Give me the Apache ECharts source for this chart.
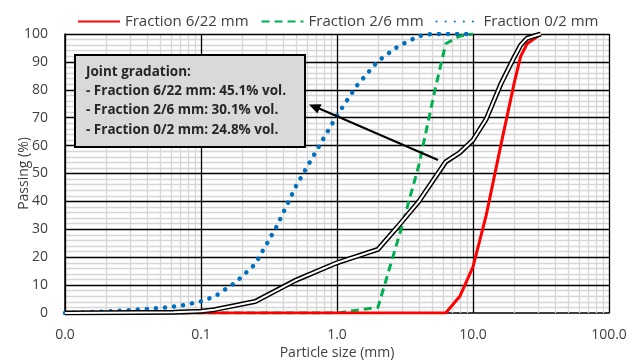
<!DOCTYPE html>
<html>
<head>
<meta charset="utf-8">
<script src="https://cdn.jsdelivr.net/npm/echarts@6/dist/echarts.min.js"></script>
<style>
  html, body { margin: 0; padding: 0; background: #fff; }
  #chart { width: 632px; height: 362px; }
</style>
</head>
<body>
<div id="chart"></div>
<script>
// grading curves, [particle size mm, passing %]
var fraction622 = [[0.01, 0], [6.3, 0], [8, 6], [10, 16.5], [12.5, 35], [16, 60], [20, 82], [22.4, 92], [25, 96.5], [31.5, 100]];
var fraction26 = [[0.01, 0], [1, 0], [2, 2], [3, 31], [4, 53], [5.2, 79], [6.3, 96.5], [8, 99.3], [10, 100]];
var fraction02 = [[0.01, 0], [0.02, 0.5], [0.036, 1.3], [0.056, 2], [0.077, 2.9], [0.1, 4.2], [0.125, 5.8], [0.18, 11], [0.25, 17.5],
  [0.36, 31], [0.5, 45.5], [0.63, 54], [0.9, 67], [1, 70.8], [1.4, 81.5], [2, 90.3], [2.8, 95.5], [4, 99.3], [5, 100], [10, 100]];
var jointGradation = [[0.01, 0], [0.063, 0.3], [0.1, 0.6], [0.125, 1.2], [0.25, 4.1], [0.5, 11.8], [1, 18], [1.5, 20.8], [2, 22.8],
  [2.8, 31], [4, 40], [6.3, 54.2], [8, 57.5], [10, 62], [12.5, 69.5], [16, 82], [20, 91.5], [22.4, 96], [25, 98.5], [31.5, 100]];

var legendNames = ['Fraction 6/22 mm', 'Fraction 2/6 mm', 'Fraction 0/2 mm'];
var noteLines = ['Joint gradation:', '- Fraction 6/22 mm: 45.1% vol.', '- Fraction 2/6 mm: 30.1% vol.', '- Fraction 0/2 mm: 24.8% vol.'];

var FONT = 'Open Sans';
var chart = echarts.init(document.getElementById('chart'));

// grid lines: light ones at 2..9 per decade and every 2 %, dark ones at decades and every 10 %
var minorGrid = [], majorGrid = [];
for (var k = -2; k <= 2; k++) {
  majorGrid.push({ xAxis: Math.pow(10, k) });
  if (k < 2) for (var m = 2; m <= 9; m++) minorGrid.push({ xAxis: m * Math.pow(10, k) });
}
for (var p = 2; p <= 100; p += 2) {
  if (p % 10) minorGrid.push({ yAxis: p });
  else majorGrid.push({ yAxis: p });
}

function gridLines(data, color, width, z) {
  return {
    silent: true, symbol: 'none', z: z, animation: false, label: { show: false },
    emphasis: { disabled: true },
    lineStyle: { color: color, width: width, type: 'solid' },
    data: data
  };
}

var option = {
  animation: false,
  textStyle: { fontFamily: FONT },
  grid: { left: 65, right: 23, top: 34, bottom: 49, outerBoundsMode: 'none' },
  legend: {
    data: legendNames,
    left: 72,
    top: 9,
    itemWidth: 42,
    itemHeight: 14,
    itemGap: 12,
    itemStyle: { opacity: 0 },
    textStyle: { fontSize: 15, color: '#404040', fontFamily: FONT }
  },
  xAxis: {
    type: 'log',
    logBase: 10,
    min: 0.01,
    max: 100,
    name: 'Particle size (mm)',
    nameLocation: 'middle',
    nameGap: 33,
    nameMoveOverlap: false,
    nameTextStyle: { fontSize: 14, color: '#404040' },
    axisLine: { lineStyle: { color: '#000', width: 1.5 } },
    axisTick: { show: false },
    axisLabel: { fontSize: 14, color: '#404040', margin: 15, formatter: function (v) { return v.toFixed(1); } },
    splitLine: { show: false }
  },
  yAxis: {
    type: 'value',
    min: 0,
    max: 100,
    interval: 10,
    name: 'Passing (%)',
    nameLocation: 'middle',
    nameGap: 34,
    nameMoveOverlap: false,
    nameTextStyle: { fontSize: 14, color: '#404040' },
    axisLine: { show: true, lineStyle: { color: '#000', width: 1.5 } },
    axisTick: { show: false },
    axisLabel: { fontSize: 14, color: '#404040', margin: 17 },
    splitLine: { show: false }
  },
  series: [
    {
      name: legendNames[1], type: 'line', data: fraction26, symbol: 'none', z: 3,
      lineStyle: { color: '#00b050', width: 3, type: [8, 5] }, itemStyle: { color: '#00b050' },
      markLine: gridLines(minorGrid, '#d6d6d6', 1.3, 1)
    },
    {
      name: legendNames[2], type: 'line', data: fraction02, symbol: 'none', z: 3,
      lineStyle: { color: '#0070c0', width: 4.5, type: [0.1, 9], cap: 'round' }, itemStyle: { color: '#0070c0' },
      markLine: gridLines(majorGrid, '#000', 1.3, 2)
    },
    {
      name: legendNames[0], type: 'line', data: fraction622, symbol: 'none', z: 4,
      lineStyle: { color: '#ff0000', width: 3 }, itemStyle: { color: '#ff0000' }
    },
    {
      name: 'joint-outer', type: 'line', data: jointGradation, symbol: 'none', z: 5, silent: true,
      lineStyle: { color: '#000', width: 5 }
    },
    {
      name: 'joint-inner', type: 'line', data: jointGradation, symbol: 'none', z: 6, silent: true,
      lineStyle: { color: '#fff', width: 2 }
    }
  ],
  graphic: [
    {
      type: 'rect', z: 100,
      shape: { x: 75, y: 55, width: 230, height: 92 },
      style: { fill: '#d9d9d9', stroke: '#000', lineWidth: 2 }
    },
    {
      type: 'line', z: 100,
      shape: { x1: 438, y1: 160, x2: 318, y2: 108 },
      style: { stroke: '#000', lineWidth: 2 }
    },
    {
      type: 'polygon', z: 100,
      shape: { points: [[309, 104.5], [321.5, 104.3], [317.4, 113.6]] },
      style: { fill: '#000' }
    }
  ].concat(noteLines.map(function (t, i) {
    return {
      type: 'text', z: 101, left: 86, top: 65 + i * 19.3,
      style: { text: t, fill: '#262626', font: 'bold 13.5px "' + FONT + '"' }
    };
  }))
};

chart.setOption(option);
</script>
</body>
</html>
